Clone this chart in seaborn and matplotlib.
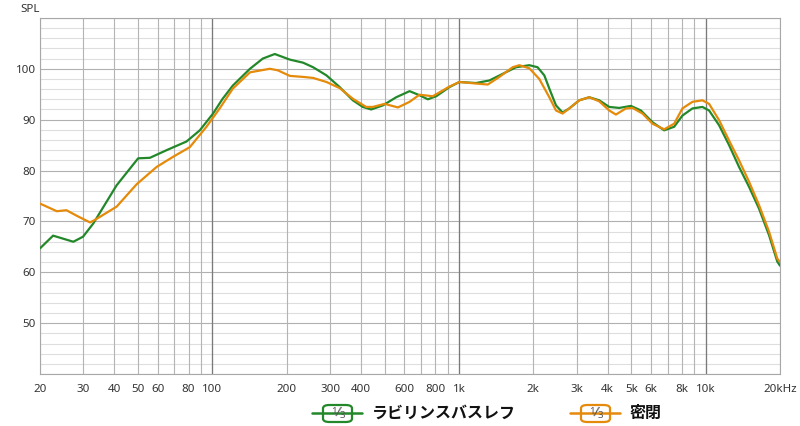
import numpy as np
import pandas as pd
import seaborn as sns
import matplotlib.pyplot as plt
from matplotlib.patches import FancyBboxPatch
from matplotlib.lines import Line2D

# ---- data ----
green_freq = [20, 22.6, 27.3, 29.9, 32.9, 40.9, 50, 55.8, 65.2, 78.5, 88.9, 100.6, 110,
              121, 142, 160, 179, 206, 233, 256, 290, 328, 371, 407, 440, 491, 556,
              630, 691, 747, 808, 914, 1003, 1172, 1327, 1502, 1702, 1926, 2081, 2216,
              2322, 2471, 2627, 2797, 3070, 3370, 3700, 4062, 4459, 4972, 5458, 6081,
              6783, 7447, 8043, 8830, 9690, 10318, 11326, 12431, 13646, 14980, 16444,
              18051, 19500, 20000]
green_spl = [64.7, 67.2, 66.0, 67.0, 69.6, 77.1, 82.4, 82.5, 84.0, 85.7, 87.9, 91.2, 94.1,
             96.7, 100.0, 102.0, 102.9, 101.8, 101.2, 100.3, 98.7, 96.4, 93.8, 92.5, 92.0,
             92.8, 94.4, 95.6, 94.8, 94.0, 94.6, 96.4, 97.4, 97.2, 97.7, 99.0, 100.3,
             100.7, 100.3, 98.7, 96.1, 92.8, 91.4, 92.2, 93.8, 94.4, 93.8, 92.5, 92.3,
             92.7, 91.8, 89.5, 87.9, 88.6, 90.8, 92.2, 92.5, 91.8, 88.9, 85.0, 80.7,
             76.8, 72.5, 67.3, 62.1, 61.3]

orange_freq = [20, 23.4, 25.6, 28.2, 31.9, 33.4, 40.9, 49.3, 59.4, 69.3, 81, 94.6, 107,
               121, 142, 171, 184, 206, 233, 256, 290, 328, 371, 420, 447, 499, 565,
               630, 691, 782, 914, 1003, 1172, 1307, 1457, 1649, 1755, 1926, 2114, 2322,
               2471, 2627, 2797, 3070, 3370, 3700, 4062, 4323, 4746, 5047, 5541, 6081,
               6783, 7447, 8043, 8830, 9690, 10318, 11326, 12431, 13646, 14980, 16444,
               18051, 19500, 20000]
orange_spl = [73.5, 72.0, 72.2, 71.1, 69.8, 70.3, 72.9, 77.3, 80.7, 82.7, 84.6, 88.6, 92.2,
              96.1, 99.3, 100.0, 99.7, 98.6, 98.4, 98.2, 97.4, 96.2, 94.1, 92.5, 92.5,
              93.1, 92.4, 93.5, 94.9, 94.6, 96.5, 97.4, 97.1, 96.9, 98.4, 100.3, 100.7,
              100.1, 98.0, 94.4, 91.8, 91.2, 92.2, 93.8, 94.4, 93.6, 91.8, 91.0, 92.2,
              92.3, 91.2, 89.2, 88.1, 89.2, 92.2, 93.5, 93.8, 93.1, 89.9, 85.9, 82.0,
              77.8, 73.2, 68.0, 62.7, 62.0]

series_names = ['ラビリンスバスレフ', '密閉']
series_colors = ['#23882a', '#e58a0a']

xtick_vals = [20, 30, 40, 50, 60, 80, 100, 200, 300, 400, 600, 800, 1000, 2000, 3000,
              4000, 5000, 6000, 8000, 10000, 20000]
xtick_labels = ['20', '30', '40', '50', '60', '80', '100', '200', '300', '400', '600',
                '800', '1k', '2k', '3k', '4k', '5k', '6k', '8k', '10k', '20kHz']
xminor_vals = [70, 90, 500, 700, 900, 7000, 9000]
ytick_vals = [50, 60, 70, 80, 90, 100]

df = pd.concat([
    pd.DataFrame({'freq': green_freq, 'spl': green_spl, 'name': series_names[0]}),
    pd.DataFrame({'freq': orange_freq, 'spl': orange_spl, 'name': series_names[1]}),
])

sns.set_theme(style='white')
plt.rcParams['font.family'] = ['Noto Sans', 'Noto Sans CJK JP', 'DejaVu Sans']

fig = plt.figure(figsize=(8, 4.26), dpi=100)
ax = fig.add_axes([0.05, 0.122, 0.925, 0.836])

# grid
for y in np.arange(40, 111, 2):
    ax.axhline(y, color='#b0b0b0' if y % 10 == 0 else '#dedede', lw=0.8, zorder=0)
for x in xtick_vals + xminor_vals:
    ax.axvline(x, color='#b4b4b4', lw=0.8, zorder=0)
for x in [100, 1000, 10000]:
    ax.axvline(x, color='#7a7a7a', lw=0.9, zorder=0)

sns.lineplot(data=df, x='freq', y='spl', hue='name', palette=series_colors,
             linewidth=1.6, ax=ax, legend=False, sort=False, zorder=3)
for ln in ax.get_lines()[-2:]:
    ln.set_solid_joinstyle('round')

ax.set_xscale('log')
ax.set_xlim(20, 20000)
ax.set_ylim(40, 110)
ax.set_xticks(xtick_vals)
ax.set_xticklabels(xtick_labels)
ax.set_xticks([], minor=True)
ax.set_yticks(ytick_vals)
ax.tick_params(axis='both', length=0, labelsize=8.3, colors='#333333')
ax.tick_params(axis='x', pad=7)
ax.tick_params(axis='y', pad=3)
ax.set_xlabel('')
ax.set_ylabel('')
for s in ax.spines.values():
    s.set_color('#a8a8a8')
    s.set_linewidth(0.8)

fig.text(20 / 800, 1 - 9 / 426, 'SPL', fontsize=8.3, color='#333333', va='center')

# legend drawn below the chart
def legend_item(x0, color, label):
    yc = 1 - 413 / 426
    fig.add_artist(Line2D([x0 / 800, (x0 + 50) / 800], [yc, yc], color=color, lw=1.8,
                          transform=fig.transFigure))
    box = FancyBboxPatch(((x0 + 11) / 800, 1 - 422 / 426), 29 / 800, 17 / 426,
                         boxstyle='round,pad=0,rounding_size=0.008',
                         transform=fig.transFigure, facecolor='white',
                         edgecolor=color, lw=1.6)
    fig.add_artist(box)
    fig.text((x0 + 22) / 800, yc + 2 / 426, '1', fontsize=7, color='#555555',
             ha='center', va='center')
    fig.text((x0 + 25.5) / 800, yc, '/', fontsize=10, color='#555555',
             ha='center', va='center', rotation=-10)
    fig.text((x0 + 30) / 800, yc - 3 / 426, '3', fontsize=7, color='#555555',
             ha='center', va='center')
    fig.text((x0 + 60) / 800, yc, label, fontsize=11.5, fontweight='bold',
             color='#111111', va='center', family=['Noto Sans CJK JP', 'DejaVu Sans'])

legend_item(312, series_colors[0], series_names[0])
legend_item(570, series_colors[1], series_names[1])

fig.savefig('out.png', dpi=100)
